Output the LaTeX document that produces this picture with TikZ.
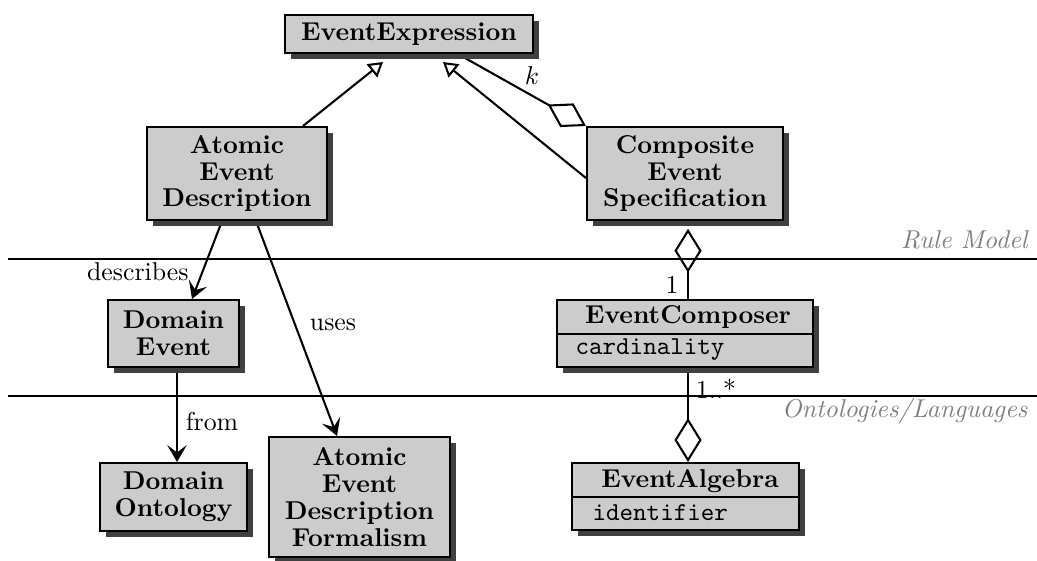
\documentclass[tikz,border=0pt]{standalone}
\usetikzlibrary{arrows.meta,shadows,backgrounds}
% one drawing unit = one grid step of the layout
\newcommand\pxu{0.3876pt}
\begin{document}
\begin{tikzpicture}[x=0.3876pt,y=-0.3876pt,
  cls/.style={draw, line width=0.8pt, fill=black!20,
    drop shadow={shadow xshift=2.3pt,shadow yshift=-2.3pt,fill=black!75,opacity=1},
    font=\fontsize{10}{10.4}\selectfont\bfseries, align=center, inner sep=0pt},
  title/.style={font=\bfseries, inner sep=0pt},
  attr/.style={font=\ttfamily, inner sep=0pt, anchor=west},
  conn/.style={line width=0.8pt},
  gen/.style={conn, -{Triangle[open,length=5.5pt,width=6.5pt,fill=white]}},
  dep/.style={conn, -{Stealth[length=6.5pt,width=7.5pt,inset=2.8pt]}},
  aggstart/.style={conn, {Diamond[open,length=17pt,width=10.5pt,fill=white]}-},
  aggend/.style={conn, -{Diamond[open,length=17pt,width=10.5pt,fill=white]}},
  lane/.style={line width=0.8pt},
  lanelbl/.style={text=black!50, font=\itshape, anchor=base east, inner sep=0pt},
  lbl/.style={inner sep=0pt}]
\useasboundingbox (0,0) rectangle (1037,560);

% swim-lane separators and their captions
\draw[lane] (8,259) -- (1037,259);
\draw[lane] (8,396) -- (1037,396);
\node[lanelbl] (lrule) at (1028,248) {Rule Model};
\node[lanelbl] (lonto) at (1028,417) {Ontologies/Languages};

% classes
\node[cls, minimum width=248*\pxu, minimum height=38*\pxu] (ee) at (409,34) {EventExpression};
\node[cls, minimum width=180*\pxu, minimum height=93*\pxu] (aed) at (237,173.5) {Atomic\\Event\\Description};
\node[cls, minimum width=196*\pxu, minimum height=93*\pxu] (ces) at (685,173.5) {Composite\\Event\\Specification};
\node[cls, minimum width=131*\pxu, minimum height=67*\pxu] (de) at (173.5,333.5) {Domain\\Event};
\node[cls, minimum width=147*\pxu, minimum height=68*\pxu] (dont) at (173.5,497) {Domain\\Ontology};
\node[cls, minimum width=181*\pxu, minimum height=120*\pxu] (fm) at (359.5,497) {Atomic\\Event\\Description\\Formalism};

% classes with an attribute compartment
\node[cls, minimum width=256*\pxu, minimum height=67*\pxu] (ec) at (685,333.5) {};
\draw[line width=0.8pt] (ec.west |- 0,334) -- (ec.east |- 0,334);
\node[title] (ecname) at (688,317) {EventComposer};
\node[attr] (ecattr) at (575,350) {cardinality};

\node[cls, minimum width=227*\pxu, minimum height=67*\pxu] (ea) at (685.5,496.5) {};
\draw[line width=0.8pt] (ea.west |- 0,497) -- (ea.east |- 0,497);
\node[title] (eaname) at (690,481) {EventAlgebra};
\node[attr] (eaattr) at (592,513) {identifier};

% arrow tips of the generalizations
\coordinate (g1) at (383,62);
\coordinate (g2) at (443,62);

\begin{pgfonlayer}{background}
  \draw[gen] (aed.north -| 303,0) -- (g1);
  \draw[gen] (ces.west |- 0,178) -- (g2);
  \draw[aggstart] (ces.north west) -- (ee.south -| 458,0);
  \draw[aggstart, shorten <=3pt] (ces.south -| 688,0) -- (ec.north -| 688,0);
  \draw[aggend] (ec.south -| 688,0) -- (ea.north -| 688,0);
  \draw[dep] (aed.south -| 222,0) -- (de.north -| 192,0);
  \draw[dep] (aed.south -| 256,0) -- (fm.north -| 337,0);
  \draw[dep] (de.south -| 177,0) -- (dont.north -| 177,0);
\end{pgfonlayer}

% connector labels
\node[lbl, anchor=east] (ldesc) at (189,272) {describes};
\node[lbl] (luses) at (333,325) {uses};
\node[lbl] (lfrom) at (212,422) {from};
\node[lbl] (lk) at (532,76) {$k$};
\node[lbl] (lone) at (672,285) {1};
\node[lbl] (lmany) at (716,389) {1..*};
\end{tikzpicture}
\end{document}
